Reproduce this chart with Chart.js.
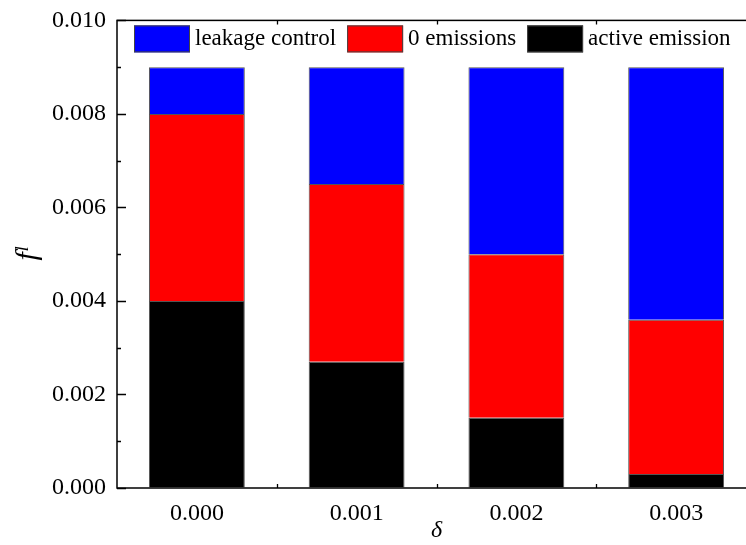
<!DOCTYPE html>
<html>
<head>
<meta charset="utf-8">
<script src="https://cdn.jsdelivr.net/npm/chart.js@4/dist/chart.umd.min.js"></script>
<style>
  html, body { margin: 0; padding: 0; background: #fff; overflow: hidden; }
  #wrap { width: 760px; height: 545px; position: relative; }
</style>
</head>
<body>
<div id="wrap"><canvas id="myChart"></canvas></div>
<script>
const ctx = document.getElementById('myChart');

// data
const deltas = ["0.000", "0.001", "0.002", "0.003"];
const activeEmission = [0.0040, 0.0027, 0.0015, 0.0003];
const zeroEmissions = [0.0040, 0.0038, 0.0035, 0.0033];
const leakageControl = [0.0010, 0.0025, 0.0040, 0.0054];
const yTicks = [0.000, 0.002, 0.004, 0.006, 0.008, 0.010];

const FONT = "'Liberation Serif', 'Times New Roman', serif";

// frame, inward ticks and the legend inside the plot
const framePlugin = {
  id: 'frame',
  afterDraw(chart) {
    const c = chart.ctx;
    const a = chart.chartArea;
    const y = chart.scales.y;
    const x = chart.scales.x;
    c.save();
    c.strokeStyle = '#000';
    c.lineWidth = 1.5;
    c.strokeRect(a.left, a.top, a.right - a.left, a.bottom - a.top);
    // y ticks (major every 0.002, minor every 0.001)
    c.lineWidth = 1.3;
    y.ticks.forEach(t => {
      const py = Math.round(y.getPixelForValue(t.value)) + 0.5;
      const major = yTicks.some(v => Math.abs(v - t.value) < 1e-9);
      const len = major ? 9 : 4;
      c.beginPath();
      c.moveTo(a.left, py); c.lineTo(a.left + len, py);
      c.moveTo(a.right, py); c.lineTo(a.right - len, py);
      c.stroke();
    });
    // x ticks between categories
    for (let i = 0; i < deltas.length - 1; i++) {
      const px = Math.round((x.getPixelForValue(i) + x.getPixelForValue(i + 1)) / 2) + 0.5;
      c.beginPath();
      c.moveTo(px, a.bottom); c.lineTo(px, a.bottom - 4);
      c.moveTo(px, a.top); c.lineTo(px, a.top + 4);
      c.stroke();
    }
    // legend
    const items = chart.data.datasets.slice().reverse();
    let lx = a.left + 17;
    const ly = a.top + 5;
    c.font = '23px ' + FONT;
    c.textBaseline = 'middle';
    c.textAlign = 'left';
    items.forEach(ds => {
      c.fillStyle = ds.backgroundColor;
      c.fillRect(lx, ly, 56, 27);
      c.strokeStyle = '#444';
      c.lineWidth = 1;
      c.strokeRect(lx + 0.5, ly + 0.5, 55, 26);
      lx += 56 + 5;
      c.fillStyle = '#000';
      c.fillText(ds.label, lx, ly + 14);
      lx += c.measureText(ds.label).width + 11;
    });
    c.restore();
  }
};

new Chart(ctx, {
  type: 'bar',
  data: {
    labels: deltas,
    datasets: [
      { label: 'active emission', data: activeEmission, backgroundColor: '#000000' },
      { label: '0 emissions', data: zeroEmissions, backgroundColor: '#ff0000' },
      { label: 'leakage control', data: leakageControl, backgroundColor: '#0000ff' }
    ].map(d => Object.assign(d, {
      borderColor: '#555',
      borderWidth: 1,
      barPercentage: 0.6,
      categoryPercentage: 1.0
    }))
  },
  options: {
    responsive: true,
    maintainAspectRatio: false,
    animation: false,
    layout: { padding: { top: 0, right: 4, bottom: 0, left: 0 } },
    plugins: {
      legend: { display: false },
      tooltip: { enabled: false }
    },
    scales: {
      x: {
        stacked: true,
        grid: { display: false, drawTicks: false },
        border: { display: false },
        ticks: { color: '#000', padding: 11, font: { family: FONT, size: 24 } },
        title: {
          display: true, text: 'δ', color: '#000',
          font: { family: FONT, size: 24, style: 'italic' },
          padding: { top: 0, bottom: 0 }
        },
        afterFit(scale) { scale.height = 57; }
      },
      y: {
        stacked: true,
        min: 0,
        max: 0.010,
        grid: { display: true, drawOnChartArea: false, drawTicks: true, tickLength: 5, color: 'rgba(0,0,0,0)' },
        border: { display: false },
        ticks: {
          stepSize: 0.001,
          color: '#000',
          padding: 6,
          font: { family: FONT, size: 24 },
          callback: v => yTicks.some(t => Math.abs(t - v) < 1e-9) ? v.toFixed(3) : ''
        },
        title: {
          display: true, text: 'fˡ', color: '#000',
          font: { family: FONT, size: 30, style: 'italic' },
          padding: { top: 10, bottom: 0 }
        },
        afterFit(scale) { scale.width = 117; }
      }
    }
  },
  plugins: [framePlugin]
});
</script>
</body>
</html>
